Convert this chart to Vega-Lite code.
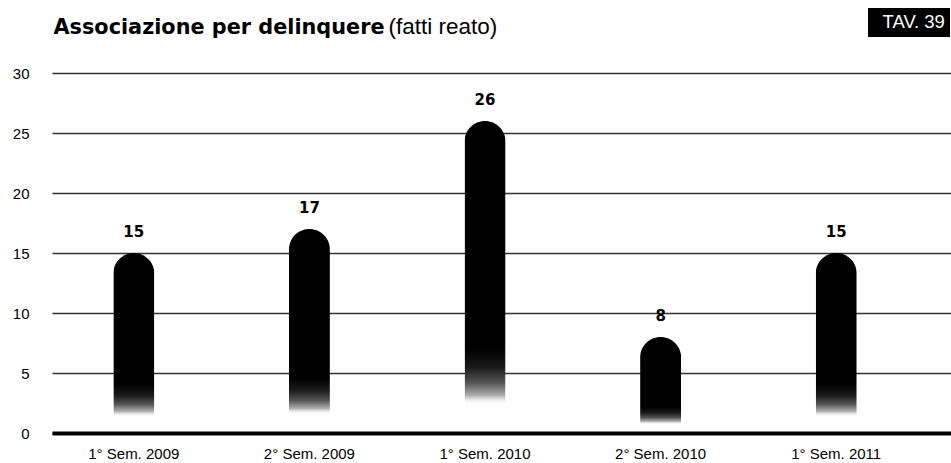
{
  "$schema": "https://vega.github.io/schema/vega-lite/v6.json",
  "width": 899,
  "height": 360,
  "autosize": {"type": "none"},
  "padding": {"left": 52, "top": 73, "right": 0, "bottom": 30},
  "background": "#ffffff",
  "config": {"view": {"stroke": null}},
  "data": {
    "values": [
      {"periodo": "1° Sem. 2009", "fatti": 15},
      {"periodo": "2° Sem. 2009", "fatti": 17},
      {"periodo": "1° Sem. 2010", "fatti": 26},
      {"periodo": "2° Sem. 2010", "fatti": 8},
      {"periodo": "1° Sem. 2011", "fatti": 15}
    ]
  },
  "encoding": {
    "x": {
      "field": "periodo",
      "type": "nominal",
      "sort": null,
      "scale": {"paddingInner": 0.7665, "paddingOuter": 0.443, "align": 0.394},
      "axis": {
        "title": "(fatti reato)",
        "labelAngle": 0,
        "labelFont": "Liberation Sans",
        "labelFontSize": 15,
        "labelColor": "#000000",
        "labelPadding": 13,
        "ticks": false,
        "tickSize": 0,
        "domainColor": "#000000",
        "domainWidth": 4,
        "titleX": 336,
        "titleY": -400,
        "titleAngle": 0,
        "titleAlign": "left",
        "titleBaseline": "alphabetic",
        "titleFont": "Liberation Sans",
        "titleFontSize": 22.5,
        "titleFontWeight": "normal",
        "titleColor": "#000000",
        "zindex": 1
      }
    },
    "y": {
      "field": "fatti",
      "type": "quantitative",
      "scale": {"domain": [0, 30], "nice": false},
      "axis": {
        "title": "Associazione per delinquere",
        "values": [0, 5, 10, 15, 20, 25, 30],
        "domain": false,
        "ticks": false,
        "tickSize": 0,
        "labelPadding": 23,
        "labelFont": "Liberation Sans",
        "labelFontSize": 15,
        "labelColor": "#000000",
        "gridColor": "#333333",
        "gridWidth": 1.3,
        "titleX": 1,
        "titleY": -40,
        "titleAngle": 0,
        "titleAlign": "left",
        "titleBaseline": "alphabetic",
        "titleFont": "DejaVu Sans",
        "titleFontSize": 20.8,
        "titleFontWeight": "bold",
        "titleColor": "#000000"
      }
    }
  },
  "layer": [
    {
      "mark": {
        "type": "bar",
        "cornerRadiusTopLeft": 20.5,
        "cornerRadiusTopRight": 20.5,
        "color": {
          "gradient": "linear",
          "x1": 0, "y1": 0, "x2": 0, "y2": 1,
          "stops": [
            {"offset": 0, "color": "#000000"},
            {"offset": 0.73, "color": "#000000"},
            {"offset": 0.79, "color": "#1a1a1a"},
            {"offset": 0.84, "color": "#555555"},
            {"offset": 0.88, "color": "#b0b0b0"},
            {"offset": 0.91, "color": "rgba(255,255,255,0)"},
            {"offset": 1, "color": "rgba(255,255,255,0)"}
          ]
        }
      }
    },
    {
      "mark": {
        "type": "text",
        "dy": -16,
        "baseline": "alphabetic",
        "font": "DejaVu Sans",
        "fontWeight": "bold",
        "fontSize": 15
      },
      "encoding": {
        "text": {"field": "fatti", "type": "quantitative"},
        "color": {
          "datum": "TAV. 39",
          "type": "nominal",
          "scale": {"range": ["#000000"]},
          "legend": {
            "orient": "none",
            "legendX": 816,
            "legendY": -65,
            "title": null,
            "fillColor": "#000000",
            "padding": 5,
            "labelColor": "#ffffff",
            "labelFont": "Liberation Sans",
            "labelFontSize": 18.5,
            "labelOffset": -9,
            "labelLimit": 200,
            "symbolSize": 0,
            "symbolOpacity": 0,
            "symbolStrokeWidth": 0
          }
        }
      }
    }
  ]
}
